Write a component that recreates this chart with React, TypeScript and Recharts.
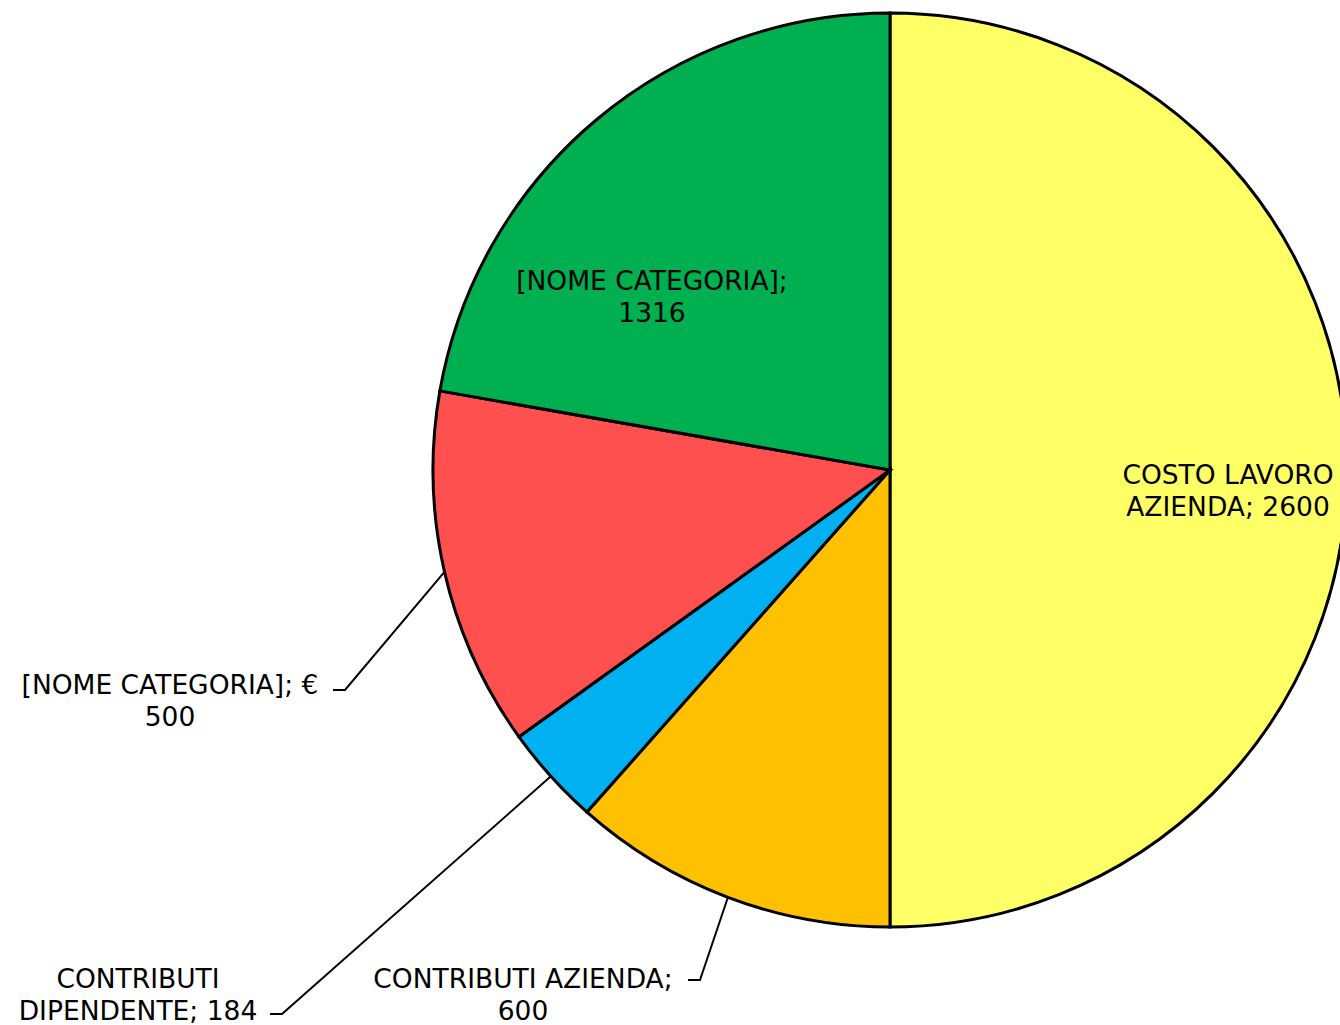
import { PieChart, Pie, Cell } from "recharts";

const categories = [
  "COSTO LAVORO AZIENDA",
  "CONTRIBUTI AZIENDA",
  "CONTRIBUTI DIPENDENTE",
  "[NOME CATEGORIA]",
  "[NOME CATEGORIA]",
];
// slice sizes as drawn in the picture
const values = [2600, 600, 184, 660, 1156];
// values printed in the labels
const labelTexts = [
  ["COSTO LAVORO", "AZIENDA; 2600"],
  ["CONTRIBUTI AZIENDA;", "600"],
  ["CONTRIBUTI", "DIPENDENTE; 184"],
  ["[NOME CATEGORIA]; €", "500"],
  ["[NOME CATEGORIA];", "1316"],
];
const colors = ["#FFFF66", "#FFC000", "#00B0F0", "#FF5050", "#00B050"];

// label block centre relative to pie centre, and leader line (null = inside label)
const labelPos = [
  { dx: 338, dy: 20, leader: null },
  { dx: -367, dy: 524, leader: { sx: -202, sy: 510 } },
  { dx: -752, dy: 524, leader: { sx: -620, sy: 544 } },
  { dx: -720, dy: 230, leader: { sx: -557, sy: 220 } },
  { dx: -238, dy: -174, leader: null },
];

const data = categories.map((name, i) => ({ name, value: values[i] }));

const RAD = Math.PI / 180;

function renderLabel(props: any) {
  const { cx, cy, midAngle, outerRadius, index } = props;
  const pos = labelPos[index];
  const x = cx + pos.dx;
  const y = cy + pos.dy;
  const lines = labelTexts[index];
  let leader = null;
  if (pos.leader) {
    const px = cx + outerRadius * Math.cos(-midAngle * RAD);
    const py = cy + outerRadius * Math.sin(-midAngle * RAD);
    const sx = cx + pos.leader.sx;
    const sy = cy + pos.leader.sy;
    leader = (
      <polyline
        points={`${sx},${sy} ${sx + 12},${sy} ${px},${py}`}
        fill="none"
        stroke="#000"
        strokeWidth={2}
      />
    );
  }
  return (
    <g key={`lbl-${index}`}>
      {leader}
      <text
        x={x}
        y={y}
        textAnchor="middle"
        fill="#000"
        fontSize={26.5}
        fontFamily="'DejaVu Sans', Verdana, sans-serif"
      >
        {lines.map((l, i) => (
          <tspan key={i} x={x} y={y + (i - 0.5) * 32} dominantBaseline="central">
            {l}
          </tspan>
        ))}
      </text>
    </g>
  );
}

export default function App() {
  return (
    <div style={{ position: "absolute", left: 0, top: 0, background: "#fff" }}>
      <PieChart width={1340} height={1025} margin={{ top: 0, right: 0, bottom: 0, left: 0 }}>
        <Pie
          data={data}
          dataKey="value"
          nameKey="name"
          cx={890}
          cy={470}
          outerRadius={457}
          startAngle={90}
          endAngle={-270}
          stroke="#000"
          strokeWidth={3}
          label={renderLabel}
          labelLine={false}
          isAnimationActive={false}
        >
          {data.map((d, i) => (
            <Cell key={i} fill={colors[i]} />
          ))}
        </Pie>
      </PieChart>
    </div>
  );
}
